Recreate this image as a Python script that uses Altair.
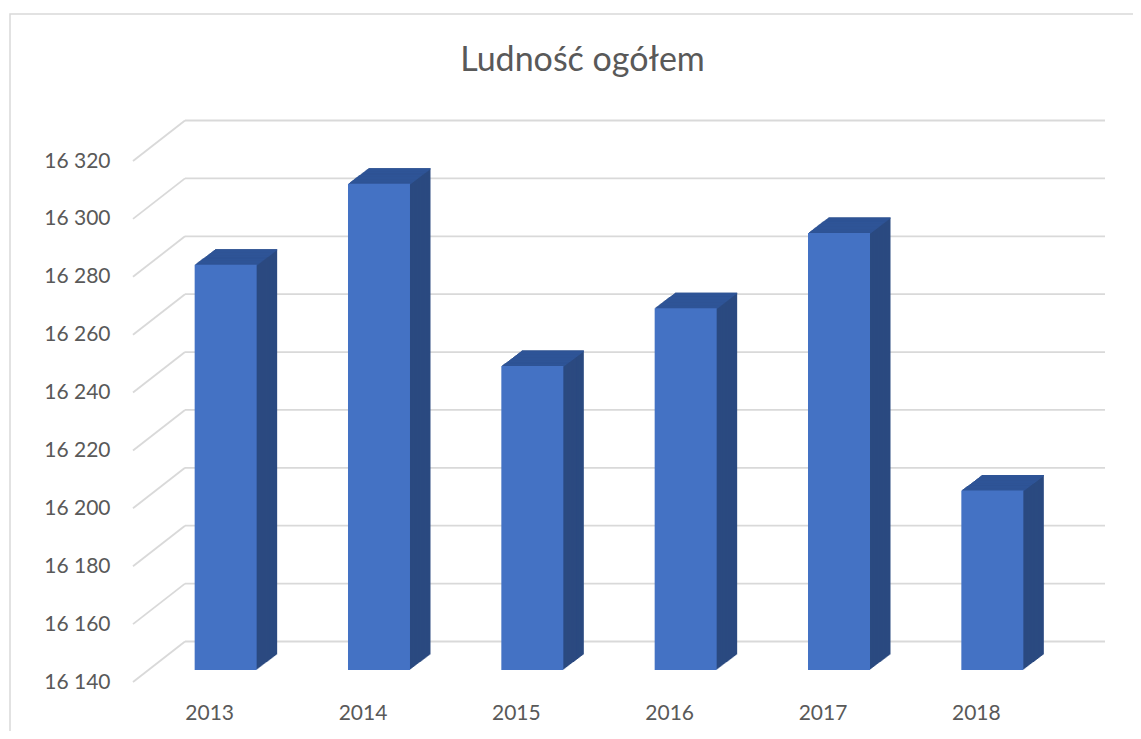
import altair as alt
import pandas as pd

# ---- data ----
years = ["2013", "2014", "2015", "2016", "2017", "2018"]
population = [16280, 16308, 16245, 16265, 16291, 16202]
y_ticks = [16140, 16160, 16180, 16200, 16220, 16240, 16260, 16280, 16300, 16320]
y_min, y_max = 16140, 16320
title_text = "Ludność ogółem"

df = pd.DataFrame({"rok": years, "ludnosc": population, "baza": [y_min] * len(years)})
grid_df = pd.DataFrame({"v": y_ticks})
frame_df = pd.DataFrame({"k": [0]})

# ---- layout / styling ----
W, H = 920, 521
FRONT_DX, FRONT_DY = 16, 12          # bar front face sits slightly behind the front plane
DEPTH_DX, DEPTH_DY = 20.5, 15.5      # bar depth
WALL_DX, WALL_DY = 52, 40.5          # back wall offset
N = 21
FRONT = "#4472C4"
SIDE = "#2B4A80"
TOP = "#2F5597"
GRID = "#D9D9D9"
TXT = "#595959"
FONT = "Lato"

x_scale = alt.Scale(paddingInner=0.5957, paddingOuter=0.2978)
y_scale = alt.Scale(domain=[y_min, y_max], nice=False, zero=False)

x_axis = alt.Axis(title=None, domain=False, ticks=False, tickSize=0, grid=False,
                  labelPadding=20, labelAngle=0, labelFont=FONT, labelFontSize=21,
                  labelColor=TXT)
y_axis = alt.Axis(title=None, values=y_ticks, domain=False, ticks=False, tickSize=0,
                  grid=False, labelPadding=23, labelFont=FONT, labelFontSize=21,
                  labelColor=TXT,
                  labelExpr="replace(format(datum.value, ','), ',', ' ')")

base = alt.Chart(df)

# gridlines: diagonal on the side wall + horizontal on the back wall
grid_diag = alt.Chart(grid_df).mark_rule(color=GRID, strokeWidth=1.8, y2Offset=-WALL_DY).encode(
    y=alt.Y("v:Q", scale=y_scale, axis=y_axis),
    y2=alt.Y2("v"),
    x=alt.value(0),
    x2=alt.value(WALL_DX),
)
grid_back = alt.Chart(grid_df).mark_rule(color=GRID, strokeWidth=1.8,
                                         yOffset=-WALL_DY, y2Offset=-WALL_DY).encode(
    y=alt.Y("v:Q", scale=y_scale, axis=y_axis),
    y2=alt.Y2("v"),
    x=alt.value(WALL_DX),
    x2=alt.value(W + WALL_DX),
)

layers = [grid_diag, grid_back]

# side extrusion of the bars
for i in range(N, 0, -1):
    ox = FRONT_DX + DEPTH_DX * i / N
    oy = -FRONT_DY - DEPTH_DY * i / N
    layers.append(
        base.mark_bar(color=SIDE, xOffset=ox, x2Offset=ox, yOffset=oy, y2Offset=oy).encode(
            x=alt.X("rok:N", scale=x_scale, axis=x_axis),
            y=alt.Y("ludnosc:Q", scale=y_scale, axis=y_axis),
            y2=alt.Y2("baza"),
        )
    )

# top faces
for i in range(N, 0, -1):
    ox = FRONT_DX + DEPTH_DX * i / N
    oy = -FRONT_DY - DEPTH_DY * i / N
    layers.append(
        base.mark_bar(color=TOP, xOffset=ox, x2Offset=ox, yOffset=oy, y2Offset=oy + 1.2).encode(
            x=alt.X("rok:N", scale=x_scale, axis=x_axis),
            y=alt.Y("ludnosc:Q", scale=y_scale, axis=y_axis),
            y2=alt.Y2("ludnosc"),
        )
    )

# front faces
front = base.mark_bar(color=FRONT, xOffset=FRONT_DX, x2Offset=FRONT_DX,
                      yOffset=-FRONT_DY, y2Offset=-FRONT_DY).encode(
    x=alt.X("rok:N", scale=x_scale, axis=x_axis),
    y=alt.Y("ludnosc:Q", scale=y_scale, axis=y_axis),
    y2=alt.Y2("baza"),
)
layers.append(front)

# outer chart border
frame = alt.Chart(frame_df).mark_rect(filled=False, stroke=GRID, strokeWidth=1.5).encode(
    x=alt.value(-123), x2=alt.value(1012), y=alt.value(-147), y2=alt.value(584)
)
layers.append(frame)

chart = alt.layer(*layers).properties(
    width=W,
    height=H,
    background="white",
    autosize=alt.AutoSizeParams(type="none"),
    padding={"left": 125, "top": 153, "right": 80, "bottom": 49},
    title=alt.TitleParams(title_text, font=FONT, fontSize=34, fontWeight="normal",
                          color=TXT, anchor="middle", frame="group", offset=-92,
                          baseline="alphabetic", dx=-10.5),
).configure_view(stroke=None)

chart.save("out.html", embed_options={"renderer": "svg", "actions": False})
